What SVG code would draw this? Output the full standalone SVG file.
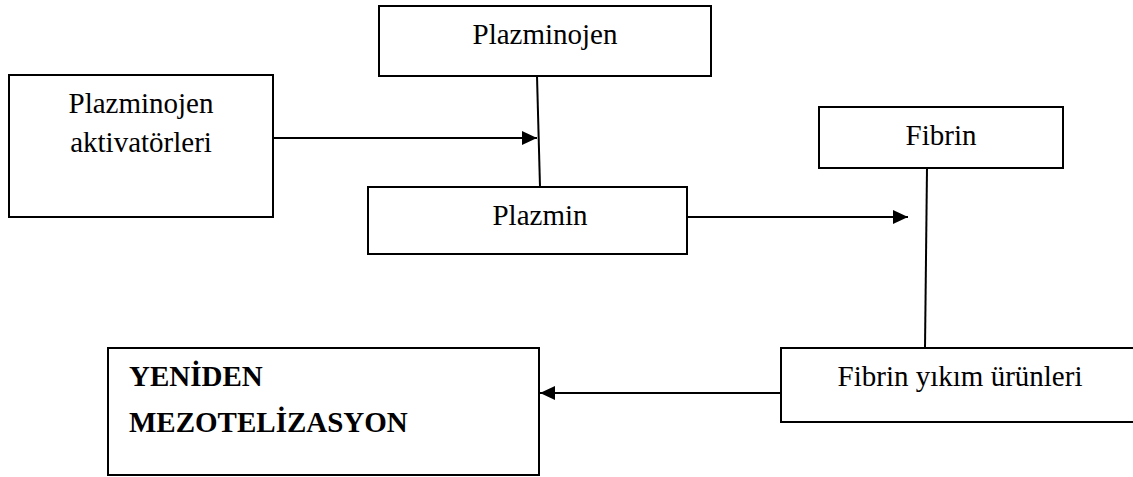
<svg xmlns="http://www.w3.org/2000/svg" width="1133" height="477" viewBox="0 0 1133 477">
<style>
.box{fill:#fff;stroke:#000;stroke-width:2}
.t{font-family:"Liberation Serif","Times New Roman",serif;font-size:29px;fill:#000}
.b{font-weight:bold;font-size:29px}
.c{fill:none;stroke:#000;stroke-width:2}
</style>
<defs>
<marker id="ah" markerWidth="15" markerHeight="14" refX="15" refY="7" orient="auto" markerUnits="userSpaceOnUse">
<path d="M0,0 L15,7 L0,14 Z" fill="#000"/>
</marker>
</defs>
<g id="connectors">
<line class="c" x1="537" y1="76" x2="540" y2="187"/>
<line class="c" x1="273" y1="138" x2="537" y2="138" marker-end="url(#ah)"/>
<line class="c" x1="687" y1="217" x2="908" y2="217" marker-end="url(#ah)"/>
<line class="c" x1="927" y1="168" x2="925" y2="348"/>
<line class="c" x1="781" y1="393" x2="540" y2="393" marker-end="url(#ah)"/>
</g>
<g id="plazminojen">
<rect class="box" x="379" y="6" width="332" height="70"/>
<text class="t" x="545" y="44" text-anchor="middle">Plazminojen</text>
</g>
<g id="aktivatorler">
<rect class="box" x="9" y="75" width="264" height="142"/>
<text class="t" x="141" y="113" text-anchor="middle">Plazminojen</text>
<text class="t" x="141" y="152" text-anchor="middle">aktivatörleri</text>
</g>
<g id="plazmin">
<rect class="box" x="368" y="187" width="319" height="67"/>
<text class="t" x="540" y="225" text-anchor="middle">Plazmin</text>
</g>
<g id="fibrin">
<rect class="box" x="819" y="107" width="244" height="61"/>
<text class="t" x="941" y="145" text-anchor="middle">Fibrin</text>
</g>
<g id="yikim">
<rect class="box" x="781" y="348" width="360" height="74"/>
<text class="t" x="960" y="386" text-anchor="middle">Fibrin yıkım ürünleri</text>
</g>
<g id="mezotelizasyon">
<rect class="box" x="108" y="348" width="431" height="127"/>
<text class="t b" x="129" y="386">YENİDEN</text>
<text class="t b" x="129" y="432">MEZOTELİZASYON</text>
</g>
</svg>
